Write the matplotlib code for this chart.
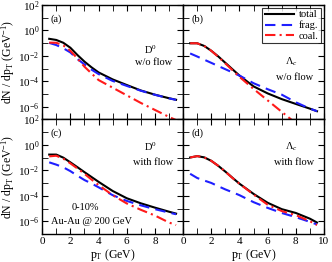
import numpy as np
import matplotlib
matplotlib.use("Agg")
import matplotlib.pyplot as plt
from matplotlib.ticker import MultipleLocator, FixedLocator, NullFormatter

plt.rcParams['font.family'] = ['Liberation Serif', 'DejaVu Serif']
plt.rcParams['mathtext.fontset'] = 'custom'
plt.rcParams['mathtext.rm'] = 'Liberation Serif'
plt.rcParams['mathtext.it'] = 'Liberation Serif:italic'

# pT grid and log10(dN/dpT)
pt = [0.5, 1.0, 1.5, 2.0, 2.5, 3.0, 3.5, 4.0, 5.0, 6.0, 7.0, 8.0, 9.0, 9.5]

d0_noflow_total = [-0.66, -0.75, -0.97, -1.36, -1.93, -2.45, -2.90, -3.30, -3.85, -4.29, -4.72, -5.05, -5.33, -5.45]
d0_noflow_frag = [-0.98, -1.15, -1.40, -1.73, -2.25, -2.67, -3.08, -3.43, -3.97, -4.36, -4.74, -5.06, -5.34, -5.46]
d0_noflow_coal = [-0.96, -0.97, -1.18, -1.60, -2.20, -2.85, -3.38, -3.90, -4.50, -5.10, -5.70, -6.25, -6.80, -7.05]

lc_noflow_total = [-1.01, -1.01, -1.22, -1.60, -2.05, -2.55, -3.05, -3.55, -4.40, -4.95, -5.40, -5.78, -6.15, -6.35]
lc_noflow_frag = [-1.81, -2.05, -2.30, -2.55, -2.80, -3.05, -3.30, -3.55, -4.15, -4.62, -5.05, -5.65, -6.15, -6.35]
lc_noflow_coal = [-1.01, -1.01, -1.22, -1.60, -2.08, -2.60, -3.12, -3.65, -4.60, -5.50, -6.40, -7.30, -8.20, -8.60]

d0_flow_total = [-0.76, -0.76, -1.00, -1.37, -1.75, -2.14, -2.52, -2.90, -3.62, -4.19, -4.59, -4.93, -5.25, -5.40]
d0_flow_frag = [-1.37, -1.55, -1.76, -2.06, -2.42, -2.76, -3.03, -3.33, -3.95, -4.40, -4.75, -5.05, -5.32, -5.45]
d0_flow_coal = [-0.90, -0.85, -1.08, -1.45, -1.85, -2.27, -2.72, -3.15, -3.95, -4.60, -5.10, -5.55, -6.10, -6.30]

lc_flow_total = [-0.99, -0.88, -0.98, -1.25, -1.65, -2.10, -2.58, -3.05, -3.85, -4.55, -5.05, -5.35, -5.80, -6.10]
lc_flow_frag = [-2.27, -2.60, -2.80, -2.99, -3.25, -3.50, -3.72, -3.95, -4.50, -4.95, -5.35, -5.68, -6.05, -6.25]
lc_flow_coal = [-0.99, -0.88, -0.98, -1.25, -1.65, -2.10, -2.60, -3.05, -3.90, -4.70, -5.20, -5.52, -6.00, -6.30]

panels = [
    ("(a)", r"D$^0$", "w/o flow", d0_noflow_total, d0_noflow_frag, d0_noflow_coal),
    ("(b)", r"$\Lambda_c$", "w/o flow", lc_noflow_total, lc_noflow_frag, lc_noflow_coal),
    ("(c)", r"D$^0$", "with flow", d0_flow_total, d0_flow_frag, d0_flow_coal),
    ("(d)", r"$\Lambda_c$", "with flow", lc_flow_total, lc_flow_frag, lc_flow_coal),
]

fig, axes = plt.subplots(2, 2, figsize=(3.32, 2.62), dpi=100, sharey=True)
fig.subplots_adjust(left=0.127, right=0.976, top=0.981, bottom=0.107, hspace=0, wspace=0)

fs = 8
for i, (ax, (tag, name, flow, tot, frag, coal)) in enumerate(zip(axes.flat, panels)):
    ax.plot(pt, 10 ** np.array(tot), color='black', lw=1.5, label='total')
    ax.plot(pt, 10 ** np.array(frag), color='#1f1fff', lw=1.5, ls=(0, (5, 3)), label='frag.')
    ax.plot(pt, 10 ** np.array(coal), color='#ff1a1a', lw=1.5, ls=(0, (5, 2, 1, 2)), label='coal.')
    ax.set_yscale('log')
    ax.set_xlim(0, 10)
    ax.set_ylim(1e-7, 1e2)
    ax.yaxis.set_major_locator(FixedLocator([1e-6, 1e-4, 1e-2, 1e0, 1e2]))
    ax.yaxis.set_minor_locator(FixedLocator([1e-7, 1e-5, 1e-3, 1e-1, 1e1]))
    ax.yaxis.set_minor_formatter(NullFormatter())
    if i % 2 == 0:
        ax.xaxis.set_major_locator(FixedLocator([0, 2, 4, 6, 8]))
    else:
        ax.xaxis.set_major_locator(FixedLocator([0, 2, 4, 6, 8, 10]))
    ax.xaxis.set_minor_locator(MultipleLocator(1))
    if i < 2:
        ax.tick_params(labelbottom=False)
    ax.tick_params(which='both', direction='in', top=True, right=True, labelsize=fs, pad=2)
    ax.tick_params(which='major', length=4)
    ax.tick_params(which='minor', length=4)
    for s in ax.spines.values():
        s.set_linewidth(1.0)

    ax.text(0.06, 0.88, tag, transform=ax.transAxes, fontsize=7.5, ha='left', va='center')
    ypos = (0.61, 0.50) if i == 0 else (0.50, 0.37) if i == 1 else (0.76, 0.62)
    ax.text(0.77, ypos[0], name, transform=ax.transAxes, fontsize=7.5, ha='center', va='center')
    ax.text(0.79, ypos[1], flow, transform=ax.transAxes, fontsize=7.5, ha='center', va='center')

axes[1, 0].text(0.31, 0.23, "0-10%", transform=axes[1, 0].transAxes, fontsize=7.5, ha='center', va='center')
axes[1, 0].text(0.35, 0.11, "Au-Au @ 200 GeV", transform=axes[1, 0].transAxes, fontsize=7.5, ha='center', va='center')

leg = axes[0, 1].legend(loc='upper right', fontsize=7.5, frameon=True, fancybox=False,
                        edgecolor='black', handlelength=2.8, borderpad=0.25, labelspacing=0.1,
                        handletextpad=0.5, borderaxespad=0.25)
leg.get_frame().set_linewidth(0.8)

for ax in axes[:, 0]:
    ax.set_ylabel(r"dN / dp$_\mathrm{T}$ (GeV$^{-1}$)", fontsize=8.5, labelpad=1)
for ax in axes[1, :]:
    ax.set_xlabel(r"p$_\mathrm{T}$ (GeV)", fontsize=8.5, labelpad=1)

fig.savefig("out.png", dpi=100)
